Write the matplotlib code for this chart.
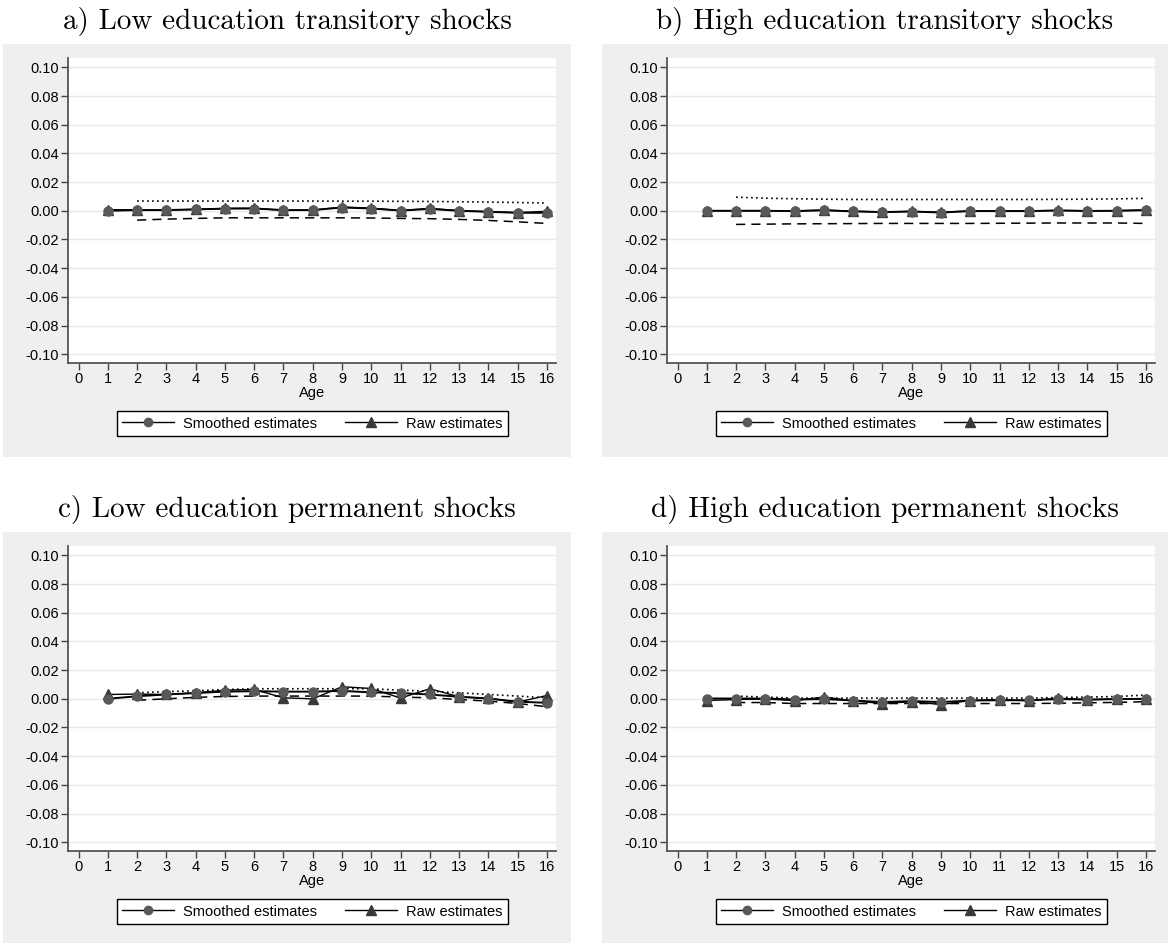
import numpy as np
import matplotlib
matplotlib.use('Agg')
import matplotlib.pyplot as plt
from matplotlib.patches import Rectangle
from matplotlib.lines import Line2D

plt.rcParams['font.family'] = ['Liberation Sans', 'DejaVu Sans']

age = list(range(1, 17))
band_age = list(range(2, 17))
xticks = list(range(0, 17))
yticks = [-0.10, -0.08, -0.06, -0.04, -0.02, 0.00, 0.02, 0.04, 0.06, 0.08, 0.10]

titles = ['a) Low education transitory shocks', 'b) High education transitory shocks',
          'c) Low education permanent shocks', 'd) High education permanent shocks']

# a) low education, transitory
smooth_a = [0.0000, 0.0005, 0.0005, 0.0010, 0.0015, 0.0016, 0.0005, 0.0005,
            0.0023, 0.0016, 0.0002, 0.0013, 0.0000, -0.0007, -0.0014, -0.0014]
raw_a = [0.0008, 0.0006, 0.0005, 0.0010, 0.0017, 0.0018, 0.0003, 0.0004,
         0.0026, 0.0019, 0.0001, 0.0017, 0.0001, -0.0006, -0.0012, -0.0004]
upper_a = [0.0068, 0.0068, 0.0068, 0.0068, 0.0068, 0.0068, 0.0068, 0.0067,
           0.0067, 0.0066, 0.0065, 0.0063, 0.0061, 0.0058, 0.0054]
lower_a = [-0.0065, -0.0058, -0.0053, -0.0049, -0.0049, -0.0049, -0.0049, -0.0049,
           -0.0050, -0.0053, -0.0055, -0.0060, -0.0067, -0.0077, -0.0088]

# b) high education, transitory
smooth_b = [0.0000, 0.0000, 0.0000, -0.0002, 0.0003, -0.0004, -0.0009, -0.0005,
            -0.0012, -0.0002, -0.0002, -0.0002, 0.0002, -0.0001, 0.0000, 0.0004]
raw_b = [0.0000, 0.0001, 0.0001, -0.0001, 0.0006, -0.0003, -0.0008, -0.0004,
         -0.0010, -0.0001, -0.0001, -0.0001, 0.0003, 0.0000, 0.0001, 0.0006]
upper_b = [0.0095, 0.0088, 0.0084, 0.0081, 0.0079, 0.0079, 0.0079, 0.0079,
           0.0079, 0.0079, 0.0079, 0.0080, 0.0081, 0.0083, 0.0087]
lower_b = [-0.0095, -0.0093, -0.0091, -0.0090, -0.0089, -0.0088, -0.0088, -0.0088,
           -0.0088, -0.0087, -0.0086, -0.0085, -0.0085, -0.0085, -0.0088]

# c) low education, permanent
smooth_c = [0.0000, 0.0018, 0.0030, 0.0040, 0.0050, 0.0053, 0.0050, 0.0050,
            0.0055, 0.0045, 0.0040, 0.0030, 0.0014, 0.0002, -0.0020, -0.0028]
raw_c = [0.0030, 0.0033, 0.0030, 0.0042, 0.0060, 0.0065, 0.0007, 0.0000,
         0.0084, 0.0072, 0.0005, 0.0070, 0.0014, 0.0003, -0.0023, 0.0023]
upper_c = [0.0042, 0.0050, 0.0056, 0.0065, 0.0070, 0.0070, 0.0070, 0.0070,
           0.0070, 0.0060, 0.0053, 0.0042, 0.0030, 0.0019, 0.0007]
lower_c = [-0.0010, 0.0000, 0.0010, 0.0016, 0.0019, 0.0019, 0.0019, 0.0019,
           0.0019, 0.0012, 0.0007, -0.0005, -0.0016, -0.0033, -0.0055]

# d) high education, permanent
smooth_d = [0.0002, 0.0002, 0.0002, -0.0005, -0.0002, -0.0012, -0.0023, -0.0016,
            -0.0023, -0.0012, -0.0010, -0.0010, -0.0002, -0.0005, -0.0002, 0.0000]
raw_d = [-0.0012, -0.0005, -0.0002, -0.0012, 0.0012, -0.0014, -0.0033, -0.0020,
         -0.0040, -0.0012, -0.0005, -0.0014, 0.0005, -0.0007, -0.0002, 0.0000]
upper_d = [0.0019, 0.0012, 0.0005, 0.0005, 0.0005, 0.0005, 0.0005, 0.0005,
           0.0005, 0.0005, 0.0005, 0.0009, 0.0012, 0.0016, 0.0026]
lower_d = [-0.0026, -0.0026, -0.0033, -0.0033, -0.0033, -0.0033, -0.0033, -0.0033,
           -0.0033, -0.0033, -0.0033, -0.0031, -0.0028, -0.0025, -0.0020]

panels = [(smooth_a, raw_a, upper_a, lower_a), (smooth_b, raw_b, upper_b, lower_b),
          (smooth_c, raw_c, upper_c, lower_c), (smooth_d, raw_d, upper_d, lower_d)]

W, H = 1168, 943
fig = plt.figure(figsize=(W / 100, H / 100), dpi=100)
fig.patch.set_facecolor('white')

bg_gray = '#efefef'
# gray box and axes edges in pixels
row_off = [0, 0, 488, 488]
col_gray = [(3, 571), (602, 1168), (3, 571), (602, 1168)]
col_ax = [(68.3, 556), (667.3, 1155), (68.3, 556), (667.3, 1155)]
title_x = [287, 885, 287, 885]

for i, (sm, rw, up, lo) in enumerate(panels):
    off = row_off[i]
    gl, gr = col_gray[i]
    gt, gb = 44 + off, min(457 + off, H)
    fig.patches.append(Rectangle((gl / W, 1 - gb / H), (gr - gl) / W, (gb - gt) / H,
                                 transform=fig.transFigure, facecolor=bg_gray,
                                 edgecolor='none', zorder=-5))
    fig.text(title_x[i] / W, 1 - (21 + off) / H, titles[i], family='cmr10',
             fontsize=21, ha='center', va='center')

    al, ar = col_ax[i]
    at, ab = 58.3 + off, 363.3 + off
    ax = fig.add_axes([al / W, 1 - ab / H, (ar - al) / W, (ab - at) / H])
    ax.set_zorder(2)
    ax.set_facecolor('white')

    ax.plot(band_age, up, color='black', linestyle=(0, (1, 2)), linewidth=1.2)
    ax.plot(band_age, lo, color='black', linestyle=(0, (6, 4)), linewidth=1.1)
    ax.plot(age, rw, color='black', linewidth=1.0, marker='^', markersize=7,
            markerfacecolor='#3a3a3a', markeredgecolor='#3a3a3a', zorder=3)
    ax.plot(age, sm, color='black', linewidth=1.4, marker='o', markersize=6.5,
            markerfacecolor='#595959', markeredgecolor='#595959', zorder=4)

    ax.set_xlim(-0.35, 16.31)
    ax.set_ylim(-0.1063, 0.1063)
    ax.set_xticks(xticks)
    ax.set_yticks(yticks)
    ax.set_yticklabels(['%.2f' % v for v in yticks])
    ax.tick_params(axis='both', labelsize=10.5, length=5, width=1, color='#444444',
                   direction='out', pad=1.5)
    ax.grid(axis='y', color='#e8e8e8', linewidth=1)
    ax.set_axisbelow(True)
    for s in ['top', 'right']:
        ax.spines[s].set_visible(False)
    for s in ['left', 'bottom']:
        ax.spines[s].set_color('#555555')
        ax.spines[s].set_linewidth(1.3)
    ax.set_xlabel('Age', fontsize=10.5, labelpad=0)

    h1 = Line2D([], [], color='black', linewidth=1, marker='o', markersize=6,
                markerfacecolor='#595959', markeredgecolor='#595959')
    h2 = Line2D([], [], color='black', linewidth=1, marker='^', markersize=6.5,
                markerfacecolor='#3a3a3a', markeredgecolor='#3a3a3a')
    leg = ax.legend([h1, h2], ['Smoothed estimates', 'Raw estimates'], ncol=2,
                    loc='center', bbox_to_anchor=(0.5, (ab - (423.5 + off)) / (ab - at)),
                    fontsize=10.5, frameon=True, fancybox=False, handlelength=3.6,
                    handletextpad=0.6, columnspacing=1.9, borderpad=0.35)
    leg.get_frame().set_edgecolor('black')
    leg.get_frame().set_linewidth(1)
    leg.get_frame().set_facecolor('white')
    leg.get_frame().set_alpha(1)

fig.savefig('out.png', dpi=100, facecolor='white')
